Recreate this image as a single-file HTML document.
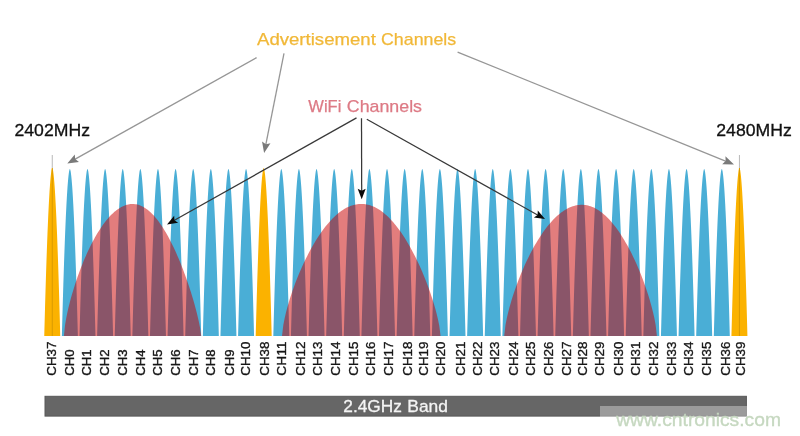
<!DOCTYPE html>
<html><head><meta charset="utf-8"><style>
html,body{margin:0;padding:0;background:#fff;width:800px;height:436px;overflow:hidden}
svg{display:block;font-family:"Liberation Sans", sans-serif;will-change:transform}
</style></head><body>
<svg width="800" height="436" viewBox="0 0 800 436">
<rect width="800" height="436" fill="#fff"/>
<path d="M61.87,336.00 L62.24,322.37 L62.60,309.33 L62.96,296.86 L63.32,284.97 L63.68,273.66 L64.04,262.94 L64.40,252.79 L64.75,243.22 L65.10,234.23 L65.45,225.83 L65.79,218.00 L66.14,210.75 L66.48,204.08 L66.82,197.99 L67.15,192.48 L67.48,187.56 L67.81,183.21 L68.13,179.44 L68.45,176.25 L68.76,173.64 L69.06,171.61 L69.35,170.16 L69.63,169.29 L69.87,169.00 L70.11,169.29 L70.39,170.16 L70.68,171.61 L70.98,173.64 L71.29,176.25 L71.61,179.44 L71.93,183.21 L72.26,187.56 L72.59,192.48 L72.92,197.99 L73.26,204.08 L73.60,210.75 L73.95,218.00 L74.29,225.83 L74.64,234.23 L74.99,243.22 L75.34,252.79 L75.70,262.94 L76.06,273.66 L76.42,284.97 L76.78,296.86 L77.14,309.33 L77.50,322.37 L77.87,336.00Z M79.49,336.00 L79.86,322.37 L80.22,309.33 L80.58,296.86 L80.94,284.97 L81.30,273.66 L81.66,262.94 L82.02,252.79 L82.37,243.22 L82.72,234.23 L83.07,225.83 L83.41,218.00 L83.76,210.75 L84.10,204.08 L84.44,197.99 L84.77,192.48 L85.10,187.56 L85.43,183.21 L85.75,179.44 L86.07,176.25 L86.38,173.64 L86.68,171.61 L86.97,170.16 L87.25,169.29 L87.49,169.00 L87.73,169.29 L88.01,170.16 L88.30,171.61 L88.60,173.64 L88.91,176.25 L89.23,179.44 L89.55,183.21 L89.88,187.56 L90.21,192.48 L90.54,197.99 L90.88,204.08 L91.22,210.75 L91.57,218.00 L91.91,225.83 L92.26,234.23 L92.61,243.22 L92.96,252.79 L93.32,262.94 L93.68,273.66 L94.04,284.97 L94.40,296.86 L94.76,309.33 L95.12,322.37 L95.49,336.00Z M97.11,336.00 L97.48,322.37 L97.84,309.33 L98.20,296.86 L98.56,284.97 L98.92,273.66 L99.28,262.94 L99.64,252.79 L99.99,243.22 L100.34,234.23 L100.69,225.83 L101.03,218.00 L101.38,210.75 L101.72,204.08 L102.06,197.99 L102.39,192.48 L102.72,187.56 L103.05,183.21 L103.37,179.44 L103.69,176.25 L104.00,173.64 L104.30,171.61 L104.59,170.16 L104.87,169.29 L105.11,169.00 L105.35,169.29 L105.63,170.16 L105.92,171.61 L106.22,173.64 L106.53,176.25 L106.85,179.44 L107.17,183.21 L107.50,187.56 L107.83,192.48 L108.16,197.99 L108.50,204.08 L108.84,210.75 L109.19,218.00 L109.53,225.83 L109.88,234.23 L110.23,243.22 L110.58,252.79 L110.94,262.94 L111.30,273.66 L111.66,284.97 L112.02,296.86 L112.38,309.33 L112.74,322.37 L113.11,336.00Z M114.73,336.00 L115.10,322.37 L115.46,309.33 L115.82,296.86 L116.18,284.97 L116.54,273.66 L116.90,262.94 L117.26,252.79 L117.61,243.22 L117.96,234.23 L118.31,225.83 L118.65,218.00 L119.00,210.75 L119.34,204.08 L119.68,197.99 L120.01,192.48 L120.34,187.56 L120.67,183.21 L120.99,179.44 L121.31,176.25 L121.62,173.64 L121.92,171.61 L122.21,170.16 L122.49,169.29 L122.73,169.00 L122.97,169.29 L123.25,170.16 L123.54,171.61 L123.84,173.64 L124.15,176.25 L124.47,179.44 L124.79,183.21 L125.12,187.56 L125.45,192.48 L125.78,197.99 L126.12,204.08 L126.46,210.75 L126.81,218.00 L127.15,225.83 L127.50,234.23 L127.85,243.22 L128.20,252.79 L128.56,262.94 L128.92,273.66 L129.28,284.97 L129.64,296.86 L130.00,309.33 L130.36,322.37 L130.73,336.00Z M132.35,336.00 L132.72,322.37 L133.08,309.33 L133.44,296.86 L133.80,284.97 L134.16,273.66 L134.52,262.94 L134.88,252.79 L135.23,243.22 L135.58,234.23 L135.93,225.83 L136.27,218.00 L136.62,210.75 L136.96,204.08 L137.30,197.99 L137.63,192.48 L137.96,187.56 L138.29,183.21 L138.61,179.44 L138.93,176.25 L139.24,173.64 L139.54,171.61 L139.83,170.16 L140.11,169.29 L140.35,169.00 L140.59,169.29 L140.87,170.16 L141.16,171.61 L141.46,173.64 L141.77,176.25 L142.09,179.44 L142.41,183.21 L142.74,187.56 L143.07,192.48 L143.40,197.99 L143.74,204.08 L144.08,210.75 L144.43,218.00 L144.77,225.83 L145.12,234.23 L145.47,243.22 L145.82,252.79 L146.18,262.94 L146.54,273.66 L146.90,284.97 L147.26,296.86 L147.62,309.33 L147.98,322.37 L148.35,336.00Z M149.97,336.00 L150.34,322.37 L150.70,309.33 L151.06,296.86 L151.42,284.97 L151.78,273.66 L152.14,262.94 L152.50,252.79 L152.85,243.22 L153.20,234.23 L153.55,225.83 L153.89,218.00 L154.24,210.75 L154.58,204.08 L154.92,197.99 L155.25,192.48 L155.58,187.56 L155.91,183.21 L156.23,179.44 L156.55,176.25 L156.86,173.64 L157.16,171.61 L157.45,170.16 L157.73,169.29 L157.97,169.00 L158.21,169.29 L158.49,170.16 L158.78,171.61 L159.08,173.64 L159.39,176.25 L159.71,179.44 L160.03,183.21 L160.36,187.56 L160.69,192.48 L161.02,197.99 L161.36,204.08 L161.70,210.75 L162.05,218.00 L162.39,225.83 L162.74,234.23 L163.09,243.22 L163.44,252.79 L163.80,262.94 L164.16,273.66 L164.52,284.97 L164.88,296.86 L165.24,309.33 L165.60,322.37 L165.97,336.00Z M167.59,336.00 L167.96,322.37 L168.32,309.33 L168.68,296.86 L169.04,284.97 L169.40,273.66 L169.76,262.94 L170.12,252.79 L170.47,243.22 L170.82,234.23 L171.17,225.83 L171.51,218.00 L171.86,210.75 L172.20,204.08 L172.54,197.99 L172.87,192.48 L173.20,187.56 L173.53,183.21 L173.85,179.44 L174.17,176.25 L174.48,173.64 L174.78,171.61 L175.07,170.16 L175.35,169.29 L175.59,169.00 L175.83,169.29 L176.11,170.16 L176.40,171.61 L176.70,173.64 L177.01,176.25 L177.33,179.44 L177.65,183.21 L177.98,187.56 L178.31,192.48 L178.64,197.99 L178.98,204.08 L179.32,210.75 L179.67,218.00 L180.01,225.83 L180.36,234.23 L180.71,243.22 L181.06,252.79 L181.42,262.94 L181.78,273.66 L182.14,284.97 L182.50,296.86 L182.86,309.33 L183.22,322.37 L183.59,336.00Z M185.21,336.00 L185.58,322.37 L185.94,309.33 L186.30,296.86 L186.66,284.97 L187.02,273.66 L187.38,262.94 L187.74,252.79 L188.09,243.22 L188.44,234.23 L188.79,225.83 L189.13,218.00 L189.48,210.75 L189.82,204.08 L190.16,197.99 L190.49,192.48 L190.82,187.56 L191.15,183.21 L191.47,179.44 L191.79,176.25 L192.10,173.64 L192.40,171.61 L192.69,170.16 L192.97,169.29 L193.21,169.00 L193.45,169.29 L193.73,170.16 L194.02,171.61 L194.32,173.64 L194.63,176.25 L194.95,179.44 L195.27,183.21 L195.60,187.56 L195.93,192.48 L196.26,197.99 L196.60,204.08 L196.94,210.75 L197.29,218.00 L197.63,225.83 L197.98,234.23 L198.33,243.22 L198.68,252.79 L199.04,262.94 L199.40,273.66 L199.76,284.97 L200.12,296.86 L200.48,309.33 L200.84,322.37 L201.21,336.00Z M202.83,336.00 L203.20,322.37 L203.56,309.33 L203.92,296.86 L204.28,284.97 L204.64,273.66 L205.00,262.94 L205.36,252.79 L205.71,243.22 L206.06,234.23 L206.41,225.83 L206.75,218.00 L207.10,210.75 L207.44,204.08 L207.78,197.99 L208.11,192.48 L208.44,187.56 L208.77,183.21 L209.09,179.44 L209.41,176.25 L209.72,173.64 L210.02,171.61 L210.31,170.16 L210.59,169.29 L210.83,169.00 L211.07,169.29 L211.35,170.16 L211.64,171.61 L211.94,173.64 L212.25,176.25 L212.57,179.44 L212.89,183.21 L213.22,187.56 L213.55,192.48 L213.88,197.99 L214.22,204.08 L214.56,210.75 L214.91,218.00 L215.25,225.83 L215.60,234.23 L215.95,243.22 L216.30,252.79 L216.66,262.94 L217.02,273.66 L217.38,284.97 L217.74,296.86 L218.10,309.33 L218.46,322.37 L218.83,336.00Z M220.45,336.00 L220.82,322.37 L221.18,309.33 L221.54,296.86 L221.90,284.97 L222.26,273.66 L222.62,262.94 L222.98,252.79 L223.33,243.22 L223.68,234.23 L224.03,225.83 L224.37,218.00 L224.72,210.75 L225.06,204.08 L225.40,197.99 L225.73,192.48 L226.06,187.56 L226.39,183.21 L226.71,179.44 L227.03,176.25 L227.34,173.64 L227.64,171.61 L227.93,170.16 L228.21,169.29 L228.45,169.00 L228.69,169.29 L228.97,170.16 L229.26,171.61 L229.56,173.64 L229.87,176.25 L230.19,179.44 L230.51,183.21 L230.84,187.56 L231.17,192.48 L231.50,197.99 L231.84,204.08 L232.18,210.75 L232.53,218.00 L232.87,225.83 L233.22,234.23 L233.57,243.22 L233.92,252.79 L234.28,262.94 L234.64,273.66 L235.00,284.97 L235.36,296.86 L235.72,309.33 L236.08,322.37 L236.45,336.00Z M238.07,336.00 L238.44,322.37 L238.80,309.33 L239.16,296.86 L239.52,284.97 L239.88,273.66 L240.24,262.94 L240.60,252.79 L240.95,243.22 L241.30,234.23 L241.65,225.83 L241.99,218.00 L242.34,210.75 L242.68,204.08 L243.02,197.99 L243.35,192.48 L243.68,187.56 L244.01,183.21 L244.33,179.44 L244.65,176.25 L244.96,173.64 L245.26,171.61 L245.55,170.16 L245.83,169.29 L246.07,169.00 L246.31,169.29 L246.59,170.16 L246.88,171.61 L247.18,173.64 L247.49,176.25 L247.81,179.44 L248.13,183.21 L248.46,187.56 L248.79,192.48 L249.12,197.99 L249.46,204.08 L249.80,210.75 L250.15,218.00 L250.49,225.83 L250.84,234.23 L251.19,243.22 L251.54,252.79 L251.90,262.94 L252.26,273.66 L252.62,284.97 L252.98,296.86 L253.34,309.33 L253.70,322.37 L254.07,336.00Z M273.31,336.00 L273.68,322.37 L274.04,309.33 L274.40,296.86 L274.76,284.97 L275.12,273.66 L275.48,262.94 L275.84,252.79 L276.19,243.22 L276.54,234.23 L276.89,225.83 L277.23,218.00 L277.58,210.75 L277.92,204.08 L278.26,197.99 L278.59,192.48 L278.92,187.56 L279.25,183.21 L279.57,179.44 L279.89,176.25 L280.20,173.64 L280.50,171.61 L280.79,170.16 L281.07,169.29 L281.31,169.00 L281.55,169.29 L281.83,170.16 L282.12,171.61 L282.42,173.64 L282.73,176.25 L283.05,179.44 L283.37,183.21 L283.70,187.56 L284.03,192.48 L284.36,197.99 L284.70,204.08 L285.04,210.75 L285.39,218.00 L285.73,225.83 L286.08,234.23 L286.43,243.22 L286.78,252.79 L287.14,262.94 L287.50,273.66 L287.86,284.97 L288.22,296.86 L288.58,309.33 L288.94,322.37 L289.31,336.00Z M290.93,336.00 L291.30,322.37 L291.66,309.33 L292.02,296.86 L292.38,284.97 L292.74,273.66 L293.10,262.94 L293.46,252.79 L293.81,243.22 L294.16,234.23 L294.51,225.83 L294.85,218.00 L295.20,210.75 L295.54,204.08 L295.88,197.99 L296.21,192.48 L296.54,187.56 L296.87,183.21 L297.19,179.44 L297.51,176.25 L297.82,173.64 L298.12,171.61 L298.41,170.16 L298.69,169.29 L298.93,169.00 L299.17,169.29 L299.45,170.16 L299.74,171.61 L300.04,173.64 L300.35,176.25 L300.67,179.44 L300.99,183.21 L301.32,187.56 L301.65,192.48 L301.98,197.99 L302.32,204.08 L302.66,210.75 L303.01,218.00 L303.35,225.83 L303.70,234.23 L304.05,243.22 L304.40,252.79 L304.76,262.94 L305.12,273.66 L305.48,284.97 L305.84,296.86 L306.20,309.33 L306.56,322.37 L306.93,336.00Z M308.55,336.00 L308.92,322.37 L309.28,309.33 L309.64,296.86 L310.00,284.97 L310.36,273.66 L310.72,262.94 L311.08,252.79 L311.43,243.22 L311.78,234.23 L312.13,225.83 L312.47,218.00 L312.82,210.75 L313.16,204.08 L313.50,197.99 L313.83,192.48 L314.16,187.56 L314.49,183.21 L314.81,179.44 L315.13,176.25 L315.44,173.64 L315.74,171.61 L316.03,170.16 L316.31,169.29 L316.55,169.00 L316.79,169.29 L317.07,170.16 L317.36,171.61 L317.66,173.64 L317.97,176.25 L318.29,179.44 L318.61,183.21 L318.94,187.56 L319.27,192.48 L319.60,197.99 L319.94,204.08 L320.28,210.75 L320.63,218.00 L320.97,225.83 L321.32,234.23 L321.67,243.22 L322.02,252.79 L322.38,262.94 L322.74,273.66 L323.10,284.97 L323.46,296.86 L323.82,309.33 L324.18,322.37 L324.55,336.00Z M326.17,336.00 L326.54,322.37 L326.90,309.33 L327.26,296.86 L327.62,284.97 L327.98,273.66 L328.34,262.94 L328.70,252.79 L329.05,243.22 L329.40,234.23 L329.75,225.83 L330.09,218.00 L330.44,210.75 L330.78,204.08 L331.12,197.99 L331.45,192.48 L331.78,187.56 L332.11,183.21 L332.43,179.44 L332.75,176.25 L333.06,173.64 L333.36,171.61 L333.65,170.16 L333.93,169.29 L334.17,169.00 L334.41,169.29 L334.69,170.16 L334.98,171.61 L335.28,173.64 L335.59,176.25 L335.91,179.44 L336.23,183.21 L336.56,187.56 L336.89,192.48 L337.22,197.99 L337.56,204.08 L337.90,210.75 L338.25,218.00 L338.59,225.83 L338.94,234.23 L339.29,243.22 L339.64,252.79 L340.00,262.94 L340.36,273.66 L340.72,284.97 L341.08,296.86 L341.44,309.33 L341.80,322.37 L342.17,336.00Z M343.79,336.00 L344.16,322.37 L344.52,309.33 L344.88,296.86 L345.24,284.97 L345.60,273.66 L345.96,262.94 L346.32,252.79 L346.67,243.22 L347.02,234.23 L347.37,225.83 L347.71,218.00 L348.06,210.75 L348.40,204.08 L348.74,197.99 L349.07,192.48 L349.40,187.56 L349.73,183.21 L350.05,179.44 L350.37,176.25 L350.68,173.64 L350.98,171.61 L351.27,170.16 L351.55,169.29 L351.79,169.00 L352.03,169.29 L352.31,170.16 L352.60,171.61 L352.90,173.64 L353.21,176.25 L353.53,179.44 L353.85,183.21 L354.18,187.56 L354.51,192.48 L354.84,197.99 L355.18,204.08 L355.52,210.75 L355.87,218.00 L356.21,225.83 L356.56,234.23 L356.91,243.22 L357.26,252.79 L357.62,262.94 L357.98,273.66 L358.34,284.97 L358.70,296.86 L359.06,309.33 L359.42,322.37 L359.79,336.00Z M361.41,336.00 L361.78,322.37 L362.14,309.33 L362.50,296.86 L362.86,284.97 L363.22,273.66 L363.58,262.94 L363.94,252.79 L364.29,243.22 L364.64,234.23 L364.99,225.83 L365.33,218.00 L365.68,210.75 L366.02,204.08 L366.36,197.99 L366.69,192.48 L367.02,187.56 L367.35,183.21 L367.67,179.44 L367.99,176.25 L368.30,173.64 L368.60,171.61 L368.89,170.16 L369.17,169.29 L369.41,169.00 L369.65,169.29 L369.93,170.16 L370.22,171.61 L370.52,173.64 L370.83,176.25 L371.15,179.44 L371.47,183.21 L371.80,187.56 L372.13,192.48 L372.46,197.99 L372.80,204.08 L373.14,210.75 L373.49,218.00 L373.83,225.83 L374.18,234.23 L374.53,243.22 L374.88,252.79 L375.24,262.94 L375.60,273.66 L375.96,284.97 L376.32,296.86 L376.68,309.33 L377.04,322.37 L377.41,336.00Z M379.03,336.00 L379.40,322.37 L379.76,309.33 L380.12,296.86 L380.48,284.97 L380.84,273.66 L381.20,262.94 L381.56,252.79 L381.91,243.22 L382.26,234.23 L382.61,225.83 L382.95,218.00 L383.30,210.75 L383.64,204.08 L383.98,197.99 L384.31,192.48 L384.64,187.56 L384.97,183.21 L385.29,179.44 L385.61,176.25 L385.92,173.64 L386.22,171.61 L386.51,170.16 L386.79,169.29 L387.03,169.00 L387.27,169.29 L387.55,170.16 L387.84,171.61 L388.14,173.64 L388.45,176.25 L388.77,179.44 L389.09,183.21 L389.42,187.56 L389.75,192.48 L390.08,197.99 L390.42,204.08 L390.76,210.75 L391.11,218.00 L391.45,225.83 L391.80,234.23 L392.15,243.22 L392.50,252.79 L392.86,262.94 L393.22,273.66 L393.58,284.97 L393.94,296.86 L394.30,309.33 L394.66,322.37 L395.03,336.00Z M396.65,336.00 L397.02,322.37 L397.38,309.33 L397.74,296.86 L398.10,284.97 L398.46,273.66 L398.82,262.94 L399.18,252.79 L399.53,243.22 L399.88,234.23 L400.23,225.83 L400.57,218.00 L400.92,210.75 L401.26,204.08 L401.60,197.99 L401.93,192.48 L402.26,187.56 L402.59,183.21 L402.91,179.44 L403.23,176.25 L403.54,173.64 L403.84,171.61 L404.13,170.16 L404.41,169.29 L404.65,169.00 L404.89,169.29 L405.17,170.16 L405.46,171.61 L405.76,173.64 L406.07,176.25 L406.39,179.44 L406.71,183.21 L407.04,187.56 L407.37,192.48 L407.70,197.99 L408.04,204.08 L408.38,210.75 L408.73,218.00 L409.07,225.83 L409.42,234.23 L409.77,243.22 L410.12,252.79 L410.48,262.94 L410.84,273.66 L411.20,284.97 L411.56,296.86 L411.92,309.33 L412.28,322.37 L412.65,336.00Z M414.27,336.00 L414.64,322.37 L415.00,309.33 L415.36,296.86 L415.72,284.97 L416.08,273.66 L416.44,262.94 L416.80,252.79 L417.15,243.22 L417.50,234.23 L417.85,225.83 L418.19,218.00 L418.54,210.75 L418.88,204.08 L419.22,197.99 L419.55,192.48 L419.88,187.56 L420.21,183.21 L420.53,179.44 L420.85,176.25 L421.16,173.64 L421.46,171.61 L421.75,170.16 L422.03,169.29 L422.27,169.00 L422.51,169.29 L422.79,170.16 L423.08,171.61 L423.38,173.64 L423.69,176.25 L424.01,179.44 L424.33,183.21 L424.66,187.56 L424.99,192.48 L425.32,197.99 L425.66,204.08 L426.00,210.75 L426.35,218.00 L426.69,225.83 L427.04,234.23 L427.39,243.22 L427.74,252.79 L428.10,262.94 L428.46,273.66 L428.82,284.97 L429.18,296.86 L429.54,309.33 L429.90,322.37 L430.27,336.00Z M431.89,336.00 L432.26,322.37 L432.62,309.33 L432.98,296.86 L433.34,284.97 L433.70,273.66 L434.06,262.94 L434.42,252.79 L434.77,243.22 L435.12,234.23 L435.47,225.83 L435.81,218.00 L436.16,210.75 L436.50,204.08 L436.84,197.99 L437.17,192.48 L437.50,187.56 L437.83,183.21 L438.15,179.44 L438.47,176.25 L438.78,173.64 L439.08,171.61 L439.37,170.16 L439.65,169.29 L439.89,169.00 L440.13,169.29 L440.41,170.16 L440.70,171.61 L441.00,173.64 L441.31,176.25 L441.63,179.44 L441.95,183.21 L442.28,187.56 L442.61,192.48 L442.94,197.99 L443.28,204.08 L443.62,210.75 L443.97,218.00 L444.31,225.83 L444.66,234.23 L445.01,243.22 L445.36,252.79 L445.72,262.94 L446.08,273.66 L446.44,284.97 L446.80,296.86 L447.16,309.33 L447.52,322.37 L447.89,336.00Z M449.51,336.00 L449.88,322.37 L450.24,309.33 L450.60,296.86 L450.96,284.97 L451.32,273.66 L451.68,262.94 L452.04,252.79 L452.39,243.22 L452.74,234.23 L453.09,225.83 L453.43,218.00 L453.78,210.75 L454.12,204.08 L454.46,197.99 L454.79,192.48 L455.12,187.56 L455.45,183.21 L455.77,179.44 L456.09,176.25 L456.40,173.64 L456.70,171.61 L456.99,170.16 L457.27,169.29 L457.51,169.00 L457.75,169.29 L458.03,170.16 L458.32,171.61 L458.62,173.64 L458.93,176.25 L459.25,179.44 L459.57,183.21 L459.90,187.56 L460.23,192.48 L460.56,197.99 L460.90,204.08 L461.24,210.75 L461.59,218.00 L461.93,225.83 L462.28,234.23 L462.63,243.22 L462.98,252.79 L463.34,262.94 L463.70,273.66 L464.06,284.97 L464.42,296.86 L464.78,309.33 L465.14,322.37 L465.51,336.00Z M467.13,336.00 L467.50,322.37 L467.86,309.33 L468.22,296.86 L468.58,284.97 L468.94,273.66 L469.30,262.94 L469.66,252.79 L470.01,243.22 L470.36,234.23 L470.71,225.83 L471.05,218.00 L471.40,210.75 L471.74,204.08 L472.08,197.99 L472.41,192.48 L472.74,187.56 L473.07,183.21 L473.39,179.44 L473.71,176.25 L474.02,173.64 L474.32,171.61 L474.61,170.16 L474.89,169.29 L475.13,169.00 L475.37,169.29 L475.65,170.16 L475.94,171.61 L476.24,173.64 L476.55,176.25 L476.87,179.44 L477.19,183.21 L477.52,187.56 L477.85,192.48 L478.18,197.99 L478.52,204.08 L478.86,210.75 L479.21,218.00 L479.55,225.83 L479.90,234.23 L480.25,243.22 L480.60,252.79 L480.96,262.94 L481.32,273.66 L481.68,284.97 L482.04,296.86 L482.40,309.33 L482.76,322.37 L483.13,336.00Z M484.75,336.00 L485.12,322.37 L485.48,309.33 L485.84,296.86 L486.20,284.97 L486.56,273.66 L486.92,262.94 L487.28,252.79 L487.63,243.22 L487.98,234.23 L488.33,225.83 L488.67,218.00 L489.02,210.75 L489.36,204.08 L489.70,197.99 L490.03,192.48 L490.36,187.56 L490.69,183.21 L491.01,179.44 L491.33,176.25 L491.64,173.64 L491.94,171.61 L492.23,170.16 L492.51,169.29 L492.75,169.00 L492.99,169.29 L493.27,170.16 L493.56,171.61 L493.86,173.64 L494.17,176.25 L494.49,179.44 L494.81,183.21 L495.14,187.56 L495.47,192.48 L495.80,197.99 L496.14,204.08 L496.48,210.75 L496.83,218.00 L497.17,225.83 L497.52,234.23 L497.87,243.22 L498.22,252.79 L498.58,262.94 L498.94,273.66 L499.30,284.97 L499.66,296.86 L500.02,309.33 L500.38,322.37 L500.75,336.00Z M502.37,336.00 L502.74,322.37 L503.10,309.33 L503.46,296.86 L503.82,284.97 L504.18,273.66 L504.54,262.94 L504.90,252.79 L505.25,243.22 L505.60,234.23 L505.95,225.83 L506.29,218.00 L506.64,210.75 L506.98,204.08 L507.32,197.99 L507.65,192.48 L507.98,187.56 L508.31,183.21 L508.63,179.44 L508.95,176.25 L509.26,173.64 L509.56,171.61 L509.85,170.16 L510.13,169.29 L510.37,169.00 L510.61,169.29 L510.89,170.16 L511.18,171.61 L511.48,173.64 L511.79,176.25 L512.11,179.44 L512.43,183.21 L512.76,187.56 L513.09,192.48 L513.42,197.99 L513.76,204.08 L514.10,210.75 L514.45,218.00 L514.79,225.83 L515.14,234.23 L515.49,243.22 L515.84,252.79 L516.20,262.94 L516.56,273.66 L516.92,284.97 L517.28,296.86 L517.64,309.33 L518.00,322.37 L518.37,336.00Z M519.99,336.00 L520.36,322.37 L520.72,309.33 L521.08,296.86 L521.44,284.97 L521.80,273.66 L522.16,262.94 L522.52,252.79 L522.87,243.22 L523.22,234.23 L523.57,225.83 L523.91,218.00 L524.26,210.75 L524.60,204.08 L524.94,197.99 L525.27,192.48 L525.60,187.56 L525.93,183.21 L526.25,179.44 L526.57,176.25 L526.88,173.64 L527.18,171.61 L527.47,170.16 L527.75,169.29 L527.99,169.00 L528.23,169.29 L528.51,170.16 L528.80,171.61 L529.10,173.64 L529.41,176.25 L529.73,179.44 L530.05,183.21 L530.38,187.56 L530.71,192.48 L531.04,197.99 L531.38,204.08 L531.72,210.75 L532.07,218.00 L532.41,225.83 L532.76,234.23 L533.11,243.22 L533.46,252.79 L533.82,262.94 L534.18,273.66 L534.54,284.97 L534.90,296.86 L535.26,309.33 L535.62,322.37 L535.99,336.00Z M537.61,336.00 L537.98,322.37 L538.34,309.33 L538.70,296.86 L539.06,284.97 L539.42,273.66 L539.78,262.94 L540.14,252.79 L540.49,243.22 L540.84,234.23 L541.19,225.83 L541.53,218.00 L541.88,210.75 L542.22,204.08 L542.56,197.99 L542.89,192.48 L543.22,187.56 L543.55,183.21 L543.87,179.44 L544.19,176.25 L544.50,173.64 L544.80,171.61 L545.09,170.16 L545.37,169.29 L545.61,169.00 L545.85,169.29 L546.13,170.16 L546.42,171.61 L546.72,173.64 L547.03,176.25 L547.35,179.44 L547.67,183.21 L548.00,187.56 L548.33,192.48 L548.66,197.99 L549.00,204.08 L549.34,210.75 L549.69,218.00 L550.03,225.83 L550.38,234.23 L550.73,243.22 L551.08,252.79 L551.44,262.94 L551.80,273.66 L552.16,284.97 L552.52,296.86 L552.88,309.33 L553.24,322.37 L553.61,336.00Z M555.23,336.00 L555.60,322.37 L555.96,309.33 L556.32,296.86 L556.68,284.97 L557.04,273.66 L557.40,262.94 L557.76,252.79 L558.11,243.22 L558.46,234.23 L558.81,225.83 L559.15,218.00 L559.50,210.75 L559.84,204.08 L560.18,197.99 L560.51,192.48 L560.84,187.56 L561.17,183.21 L561.49,179.44 L561.81,176.25 L562.12,173.64 L562.42,171.61 L562.71,170.16 L562.99,169.29 L563.23,169.00 L563.47,169.29 L563.75,170.16 L564.04,171.61 L564.34,173.64 L564.65,176.25 L564.97,179.44 L565.29,183.21 L565.62,187.56 L565.95,192.48 L566.28,197.99 L566.62,204.08 L566.96,210.75 L567.31,218.00 L567.65,225.83 L568.00,234.23 L568.35,243.22 L568.70,252.79 L569.06,262.94 L569.42,273.66 L569.78,284.97 L570.14,296.86 L570.50,309.33 L570.86,322.37 L571.23,336.00Z M572.85,336.00 L573.22,322.37 L573.58,309.33 L573.94,296.86 L574.30,284.97 L574.66,273.66 L575.02,262.94 L575.38,252.79 L575.73,243.22 L576.08,234.23 L576.43,225.83 L576.77,218.00 L577.12,210.75 L577.46,204.08 L577.80,197.99 L578.13,192.48 L578.46,187.56 L578.79,183.21 L579.11,179.44 L579.43,176.25 L579.74,173.64 L580.04,171.61 L580.33,170.16 L580.61,169.29 L580.85,169.00 L581.09,169.29 L581.37,170.16 L581.66,171.61 L581.96,173.64 L582.27,176.25 L582.59,179.44 L582.91,183.21 L583.24,187.56 L583.57,192.48 L583.90,197.99 L584.24,204.08 L584.58,210.75 L584.93,218.00 L585.27,225.83 L585.62,234.23 L585.97,243.22 L586.32,252.79 L586.68,262.94 L587.04,273.66 L587.40,284.97 L587.76,296.86 L588.12,309.33 L588.48,322.37 L588.85,336.00Z M590.47,336.00 L590.84,322.37 L591.20,309.33 L591.56,296.86 L591.92,284.97 L592.28,273.66 L592.64,262.94 L593.00,252.79 L593.35,243.22 L593.70,234.23 L594.05,225.83 L594.39,218.00 L594.74,210.75 L595.08,204.08 L595.42,197.99 L595.75,192.48 L596.08,187.56 L596.41,183.21 L596.73,179.44 L597.05,176.25 L597.36,173.64 L597.66,171.61 L597.95,170.16 L598.23,169.29 L598.47,169.00 L598.71,169.29 L598.99,170.16 L599.28,171.61 L599.58,173.64 L599.89,176.25 L600.21,179.44 L600.53,183.21 L600.86,187.56 L601.19,192.48 L601.52,197.99 L601.86,204.08 L602.20,210.75 L602.55,218.00 L602.89,225.83 L603.24,234.23 L603.59,243.22 L603.94,252.79 L604.30,262.94 L604.66,273.66 L605.02,284.97 L605.38,296.86 L605.74,309.33 L606.10,322.37 L606.47,336.00Z M608.09,336.00 L608.46,322.37 L608.82,309.33 L609.18,296.86 L609.54,284.97 L609.90,273.66 L610.26,262.94 L610.62,252.79 L610.97,243.22 L611.32,234.23 L611.67,225.83 L612.01,218.00 L612.36,210.75 L612.70,204.08 L613.04,197.99 L613.37,192.48 L613.70,187.56 L614.03,183.21 L614.35,179.44 L614.67,176.25 L614.98,173.64 L615.28,171.61 L615.57,170.16 L615.85,169.29 L616.09,169.00 L616.33,169.29 L616.61,170.16 L616.90,171.61 L617.20,173.64 L617.51,176.25 L617.83,179.44 L618.15,183.21 L618.48,187.56 L618.81,192.48 L619.14,197.99 L619.48,204.08 L619.82,210.75 L620.17,218.00 L620.51,225.83 L620.86,234.23 L621.21,243.22 L621.56,252.79 L621.92,262.94 L622.28,273.66 L622.64,284.97 L623.00,296.86 L623.36,309.33 L623.72,322.37 L624.09,336.00Z M625.71,336.00 L626.08,322.37 L626.44,309.33 L626.80,296.86 L627.16,284.97 L627.52,273.66 L627.88,262.94 L628.24,252.79 L628.59,243.22 L628.94,234.23 L629.29,225.83 L629.63,218.00 L629.98,210.75 L630.32,204.08 L630.66,197.99 L630.99,192.48 L631.32,187.56 L631.65,183.21 L631.97,179.44 L632.29,176.25 L632.60,173.64 L632.90,171.61 L633.19,170.16 L633.47,169.29 L633.71,169.00 L633.95,169.29 L634.23,170.16 L634.52,171.61 L634.82,173.64 L635.13,176.25 L635.45,179.44 L635.77,183.21 L636.10,187.56 L636.43,192.48 L636.76,197.99 L637.10,204.08 L637.44,210.75 L637.79,218.00 L638.13,225.83 L638.48,234.23 L638.83,243.22 L639.18,252.79 L639.54,262.94 L639.90,273.66 L640.26,284.97 L640.62,296.86 L640.98,309.33 L641.34,322.37 L641.71,336.00Z M643.33,336.00 L643.70,322.37 L644.06,309.33 L644.42,296.86 L644.78,284.97 L645.14,273.66 L645.50,262.94 L645.86,252.79 L646.21,243.22 L646.56,234.23 L646.91,225.83 L647.25,218.00 L647.60,210.75 L647.94,204.08 L648.28,197.99 L648.61,192.48 L648.94,187.56 L649.27,183.21 L649.59,179.44 L649.91,176.25 L650.22,173.64 L650.52,171.61 L650.81,170.16 L651.09,169.29 L651.33,169.00 L651.57,169.29 L651.85,170.16 L652.14,171.61 L652.44,173.64 L652.75,176.25 L653.07,179.44 L653.39,183.21 L653.72,187.56 L654.05,192.48 L654.38,197.99 L654.72,204.08 L655.06,210.75 L655.41,218.00 L655.75,225.83 L656.10,234.23 L656.45,243.22 L656.80,252.79 L657.16,262.94 L657.52,273.66 L657.88,284.97 L658.24,296.86 L658.60,309.33 L658.96,322.37 L659.33,336.00Z M660.95,336.00 L661.32,322.37 L661.68,309.33 L662.04,296.86 L662.40,284.97 L662.76,273.66 L663.12,262.94 L663.48,252.79 L663.83,243.22 L664.18,234.23 L664.53,225.83 L664.87,218.00 L665.22,210.75 L665.56,204.08 L665.90,197.99 L666.23,192.48 L666.56,187.56 L666.89,183.21 L667.21,179.44 L667.53,176.25 L667.84,173.64 L668.14,171.61 L668.43,170.16 L668.71,169.29 L668.95,169.00 L669.19,169.29 L669.47,170.16 L669.76,171.61 L670.06,173.64 L670.37,176.25 L670.69,179.44 L671.01,183.21 L671.34,187.56 L671.67,192.48 L672.00,197.99 L672.34,204.08 L672.68,210.75 L673.03,218.00 L673.37,225.83 L673.72,234.23 L674.07,243.22 L674.42,252.79 L674.78,262.94 L675.14,273.66 L675.50,284.97 L675.86,296.86 L676.22,309.33 L676.58,322.37 L676.95,336.00Z M678.57,336.00 L678.94,322.37 L679.30,309.33 L679.66,296.86 L680.02,284.97 L680.38,273.66 L680.74,262.94 L681.10,252.79 L681.45,243.22 L681.80,234.23 L682.15,225.83 L682.49,218.00 L682.84,210.75 L683.18,204.08 L683.52,197.99 L683.85,192.48 L684.18,187.56 L684.51,183.21 L684.83,179.44 L685.15,176.25 L685.46,173.64 L685.76,171.61 L686.05,170.16 L686.33,169.29 L686.57,169.00 L686.81,169.29 L687.09,170.16 L687.38,171.61 L687.68,173.64 L687.99,176.25 L688.31,179.44 L688.63,183.21 L688.96,187.56 L689.29,192.48 L689.62,197.99 L689.96,204.08 L690.30,210.75 L690.65,218.00 L690.99,225.83 L691.34,234.23 L691.69,243.22 L692.04,252.79 L692.40,262.94 L692.76,273.66 L693.12,284.97 L693.48,296.86 L693.84,309.33 L694.20,322.37 L694.57,336.00Z M696.19,336.00 L696.56,322.37 L696.92,309.33 L697.28,296.86 L697.64,284.97 L698.00,273.66 L698.36,262.94 L698.72,252.79 L699.07,243.22 L699.42,234.23 L699.77,225.83 L700.11,218.00 L700.46,210.75 L700.80,204.08 L701.14,197.99 L701.47,192.48 L701.80,187.56 L702.13,183.21 L702.45,179.44 L702.77,176.25 L703.08,173.64 L703.38,171.61 L703.67,170.16 L703.95,169.29 L704.19,169.00 L704.43,169.29 L704.71,170.16 L705.00,171.61 L705.30,173.64 L705.61,176.25 L705.93,179.44 L706.25,183.21 L706.58,187.56 L706.91,192.48 L707.24,197.99 L707.58,204.08 L707.92,210.75 L708.27,218.00 L708.61,225.83 L708.96,234.23 L709.31,243.22 L709.66,252.79 L710.02,262.94 L710.38,273.66 L710.74,284.97 L711.10,296.86 L711.46,309.33 L711.82,322.37 L712.19,336.00Z M713.81,336.00 L714.18,322.37 L714.54,309.33 L714.90,296.86 L715.26,284.97 L715.62,273.66 L715.98,262.94 L716.34,252.79 L716.69,243.22 L717.04,234.23 L717.39,225.83 L717.73,218.00 L718.08,210.75 L718.42,204.08 L718.76,197.99 L719.09,192.48 L719.42,187.56 L719.75,183.21 L720.07,179.44 L720.39,176.25 L720.70,173.64 L721.00,171.61 L721.29,170.16 L721.57,169.29 L721.81,169.00 L722.05,169.29 L722.33,170.16 L722.62,171.61 L722.92,173.64 L723.23,176.25 L723.55,179.44 L723.87,183.21 L724.20,187.56 L724.53,192.48 L724.86,197.99 L725.20,204.08 L725.54,210.75 L725.89,218.00 L726.23,225.83 L726.58,234.23 L726.93,243.22 L727.28,252.79 L727.64,262.94 L728.00,273.66 L728.36,284.97 L728.72,296.86 L729.08,309.33 L729.44,322.37 L729.81,336.00Z" fill="#4aaed6"/>
<path d="M44.25,336.00 L44.62,322.29 L44.98,309.17 L45.34,296.62 L45.70,284.67 L46.06,273.29 L46.42,262.50 L46.78,252.29 L47.13,242.67 L47.48,233.62 L47.83,225.17 L48.17,217.29 L48.52,210.00 L48.86,203.29 L49.20,197.17 L49.53,191.62 L49.86,186.67 L50.19,182.29 L50.51,178.50 L50.83,175.29 L51.14,172.67 L51.44,170.62 L51.73,169.17 L52.01,168.29 L52.25,168.00 L52.49,168.29 L52.77,169.17 L53.06,170.62 L53.36,172.67 L53.67,175.29 L53.99,178.50 L54.31,182.29 L54.64,186.67 L54.97,191.62 L55.30,197.17 L55.64,203.29 L55.98,210.00 L56.33,217.29 L56.67,225.17 L57.02,233.62 L57.37,242.67 L57.72,252.29 L58.08,262.50 L58.44,273.29 L58.80,284.67 L59.16,296.62 L59.52,309.17 L59.88,322.29 L60.25,336.00Z M255.69,336.00 L256.06,322.29 L256.42,309.17 L256.78,296.62 L257.14,284.67 L257.50,273.29 L257.86,262.50 L258.22,252.29 L258.57,242.67 L258.92,233.62 L259.27,225.17 L259.61,217.29 L259.96,210.00 L260.30,203.29 L260.64,197.17 L260.97,191.62 L261.30,186.67 L261.63,182.29 L261.95,178.50 L262.27,175.29 L262.58,172.67 L262.88,170.62 L263.17,169.17 L263.45,168.29 L263.69,168.00 L263.93,168.29 L264.21,169.17 L264.50,170.62 L264.80,172.67 L265.11,175.29 L265.43,178.50 L265.75,182.29 L266.08,186.67 L266.41,191.62 L266.74,197.17 L267.08,203.29 L267.42,210.00 L267.77,217.29 L268.11,225.17 L268.46,233.62 L268.81,242.67 L269.16,252.29 L269.52,262.50 L269.88,273.29 L270.24,284.67 L270.60,296.62 L270.96,309.17 L271.32,322.29 L271.69,336.00Z M731.43,336.00 L731.80,322.29 L732.16,309.17 L732.52,296.62 L732.88,284.67 L733.24,273.29 L733.60,262.50 L733.96,252.29 L734.31,242.67 L734.66,233.62 L735.01,225.17 L735.35,217.29 L735.70,210.00 L736.04,203.29 L736.38,197.17 L736.71,191.62 L737.04,186.67 L737.37,182.29 L737.69,178.50 L738.01,175.29 L738.32,172.67 L738.62,170.62 L738.91,169.17 L739.19,168.29 L739.43,168.00 L739.67,168.29 L739.95,169.17 L740.24,170.62 L740.54,172.67 L740.85,175.29 L741.17,178.50 L741.49,182.29 L741.82,186.67 L742.15,191.62 L742.48,197.17 L742.82,203.29 L743.16,210.00 L743.51,217.29 L743.85,225.17 L744.20,233.62 L744.55,242.67 L744.90,252.29 L745.26,262.50 L745.62,273.29 L745.98,284.67 L746.34,296.62 L746.70,309.17 L747.06,322.29 L747.43,336.00Z" fill="#fbb200"/>
<line x1="52.25" y1="155" x2="52.25" y2="168" stroke="#b8b8b8" stroke-width="1"/>
<line x1="52.25" y1="168" x2="52.25" y2="336" stroke="#d99a00" stroke-width="1"/>
<line x1="739.43" y1="155" x2="739.43" y2="168" stroke="#b8b8b8" stroke-width="1"/>
<line x1="739.43" y1="168" x2="739.43" y2="336" stroke="#d99a00" stroke-width="1"/>
<path d="M63.90,336.00 L65.05,324.91 L66.20,318.24 L67.35,312.62 L68.49,307.58 L69.64,302.94 L70.79,298.61 L71.94,294.52 L73.09,290.63 L74.24,286.92 L75.38,283.35 L76.53,279.92 L77.68,276.60 L78.83,273.40 L79.98,270.31 L81.12,267.31 L82.27,264.40 L83.42,261.58 L84.57,258.84 L85.72,256.19 L86.87,253.61 L88.02,251.11 L89.16,248.68 L90.31,246.32 L91.46,244.03 L92.61,241.81 L93.76,239.66 L94.91,237.58 L96.05,235.56 L97.20,233.60 L98.35,231.71 L99.50,229.89 L100.65,228.13 L101.80,226.43 L102.94,224.80 L104.09,223.23 L105.24,221.72 L106.39,220.27 L107.54,218.88 L108.69,217.56 L109.83,216.30 L110.98,215.10 L112.13,213.96 L113.28,212.89 L114.43,211.87 L115.58,210.92 L116.72,210.03 L117.87,209.20 L119.02,208.43 L120.17,207.72 L121.32,207.08 L122.47,206.49 L123.61,205.97 L124.76,205.51 L125.91,205.11 L127.06,204.77 L128.21,204.49 L129.36,204.28 L130.50,204.12 L131.65,204.03 L132.80,204.00 L133.94,204.03 L135.08,204.14 L136.22,204.31 L137.36,204.55 L138.50,204.86 L139.64,205.24 L140.78,205.68 L141.92,206.20 L143.06,206.78 L144.20,207.43 L145.34,208.15 L146.48,208.94 L147.62,209.79 L148.76,210.72 L149.90,211.71 L151.04,212.77 L152.18,213.89 L153.32,215.08 L154.46,216.34 L155.60,217.67 L156.74,219.06 L157.88,220.52 L159.02,222.05 L160.16,223.64 L161.30,225.29 L162.44,227.02 L163.58,228.81 L164.72,230.66 L165.86,232.58 L167.00,234.57 L168.14,236.62 L169.28,238.73 L170.42,240.92 L171.56,243.16 L172.70,245.48 L173.84,247.86 L174.98,250.31 L176.12,252.82 L177.26,255.40 L178.40,258.05 L179.54,260.78 L180.68,263.57 L181.82,266.43 L182.96,269.37 L184.10,272.39 L185.24,275.48 L186.38,278.66 L187.52,281.93 L188.66,285.29 L189.80,288.74 L190.94,292.31 L192.08,295.99 L193.22,299.80 L194.36,303.77 L195.50,307.91 L196.64,312.28 L197.78,316.92 L198.92,321.98 L200.06,327.72 L201.20,336.00Z M282.00,336.00 L283.32,324.91 L284.65,318.23 L285.97,312.60 L287.29,307.56 L288.62,302.92 L289.94,298.58 L291.26,294.49 L292.59,290.60 L293.91,286.88 L295.23,283.31 L296.56,279.87 L297.88,276.56 L299.20,273.36 L300.53,270.26 L301.85,267.26 L303.17,264.35 L304.50,261.52 L305.82,258.79 L307.14,256.13 L308.47,253.55 L309.79,251.04 L311.11,248.61 L312.44,246.25 L313.76,243.96 L315.08,241.74 L316.41,239.59 L317.73,237.50 L319.05,235.48 L320.38,233.53 L321.70,231.64 L323.02,229.81 L324.35,228.05 L325.67,226.35 L326.99,224.71 L328.32,223.14 L329.64,221.63 L330.96,220.18 L332.29,218.80 L333.61,217.47 L334.93,216.21 L336.26,215.01 L337.58,213.87 L338.90,212.79 L340.23,211.78 L341.55,210.82 L342.87,209.93 L344.20,209.10 L345.52,208.33 L346.84,207.62 L348.17,206.98 L349.49,206.39 L350.81,205.87 L352.14,205.41 L353.46,205.01 L354.78,204.67 L356.11,204.39 L357.43,204.18 L358.75,204.02 L360.08,203.93 L361.40,203.90 L362.72,203.93 L364.04,204.03 L365.36,204.19 L366.68,204.41 L368.00,204.69 L369.32,205.04 L370.64,205.45 L371.96,205.93 L373.28,206.47 L374.60,207.07 L375.92,207.73 L377.24,208.46 L378.56,209.25 L379.88,210.10 L381.20,211.02 L382.52,212.00 L383.84,213.05 L385.16,214.15 L386.48,215.32 L387.80,216.55 L389.12,217.85 L390.44,219.21 L391.76,220.63 L393.08,222.11 L394.40,223.66 L395.72,225.27 L397.04,226.95 L398.36,228.69 L399.68,230.49 L401.00,232.36 L402.32,234.29 L403.64,236.29 L404.96,238.35 L406.28,240.48 L407.60,242.67 L408.92,244.93 L410.24,247.27 L411.56,249.67 L412.88,252.14 L414.20,254.68 L415.52,257.30 L416.84,260.00 L418.16,262.77 L419.48,265.62 L420.80,268.56 L422.12,271.59 L423.44,274.72 L424.76,277.94 L426.08,281.27 L427.40,284.71 L428.72,288.29 L430.04,292.00 L431.36,295.88 L432.68,299.95 L434.00,304.24 L435.32,308.81 L436.64,313.76 L437.96,319.25 L439.28,325.69 L440.60,336.00Z M504.20,336.00 L505.49,324.98 L506.79,318.35 L508.08,312.76 L509.37,307.75 L510.67,303.14 L511.96,298.84 L513.25,294.77 L514.55,290.91 L515.84,287.21 L517.13,283.67 L518.43,280.25 L519.72,276.96 L521.01,273.78 L522.31,270.71 L523.60,267.72 L524.89,264.83 L526.19,262.03 L527.48,259.31 L528.77,256.67 L530.07,254.11 L531.36,251.62 L532.65,249.21 L533.95,246.86 L535.24,244.59 L536.53,242.38 L537.83,240.24 L539.12,238.17 L540.41,236.17 L541.71,234.22 L543.00,232.35 L544.29,230.53 L545.59,228.78 L546.88,227.10 L548.17,225.47 L549.47,223.91 L550.76,222.41 L552.05,220.97 L553.35,219.59 L554.64,218.28 L555.93,217.03 L557.23,215.83 L558.52,214.70 L559.81,213.63 L561.11,212.62 L562.40,211.68 L563.69,210.79 L564.99,209.97 L566.28,209.20 L567.57,208.50 L568.87,207.86 L570.16,207.28 L571.45,206.76 L572.75,206.30 L574.04,205.90 L575.33,205.56 L576.63,205.29 L577.92,205.08 L579.21,204.92 L580.51,204.83 L581.80,204.80 L583.05,204.83 L584.30,204.92 L585.55,205.08 L586.81,205.29 L588.06,205.56 L589.31,205.90 L590.56,206.30 L591.81,206.76 L593.06,207.28 L594.32,207.86 L595.57,208.50 L596.82,209.20 L598.07,209.97 L599.32,210.79 L600.57,211.68 L601.83,212.62 L603.08,213.63 L604.33,214.70 L605.58,215.83 L606.83,217.03 L608.08,218.28 L609.34,219.59 L610.59,220.97 L611.84,222.41 L613.09,223.91 L614.34,225.47 L615.59,227.10 L616.85,228.78 L618.10,230.53 L619.35,232.35 L620.60,234.22 L621.85,236.17 L623.11,238.17 L624.36,240.24 L625.61,242.38 L626.86,244.59 L628.11,246.86 L629.36,249.21 L630.62,251.62 L631.87,254.11 L633.12,256.67 L634.37,259.31 L635.62,262.03 L636.87,264.83 L638.12,267.72 L639.38,270.71 L640.63,273.78 L641.88,276.96 L643.13,280.25 L644.38,283.67 L645.63,287.21 L646.89,290.91 L648.14,294.77 L649.39,298.84 L650.64,303.14 L651.89,307.75 L653.14,312.76 L654.40,318.35 L655.65,324.98 L656.90,336.00Z" fill="rgba(200,0,0,0.51)"/>
<line x1="256.60" y1="57.60" x2="74.72" y2="159.35" stroke="#969696" stroke-width="1.3"/><path d="M67.30,163.50 L74.80,154.38 L75.15,159.11 L79.00,161.88Z" fill="#7a7a7a"/>
<line x1="284.00" y1="53.40" x2="265.76" y2="144.76" stroke="#969696" stroke-width="1.3"/><path d="M264.10,153.10 L262.04,141.47 L265.86,144.27 L270.47,143.15Z" fill="#7a7a7a"/>
<line x1="457.60" y1="52.10" x2="726.13" y2="161.30" stroke="#969696" stroke-width="1.3"/><path d="M734.00,164.50 L722.19,164.34 L725.66,161.11 L725.43,156.37Z" fill="#7a7a7a"/>
<line x1="356.50" y1="117.90" x2="173.97" y2="220.58" stroke="#383838" stroke-width="1.25"/><path d="M167.00,224.50 L174.19,215.87 L174.41,220.33 L178.11,222.84Z" fill="#0a0a0a"/>
<line x1="361.50" y1="118.30" x2="361.68" y2="191.30" stroke="#383838" stroke-width="1.25"/><path d="M361.70,199.30 L357.67,188.81 L361.68,190.80 L365.67,188.79Z" fill="#0a0a0a"/>
<line x1="366.80" y1="119.30" x2="538.02" y2="215.19" stroke="#383838" stroke-width="1.25"/><path d="M545.00,219.10 L533.88,217.46 L537.58,214.95 L537.79,210.48Z" fill="#0a0a0a"/>
<text x="257.0" y="45.4" font-size="16.2" fill="#f1b838" text-anchor="start" textLength="118.8" lengthAdjust="spacingAndGlyphs" stroke="#f1b838" stroke-width="0.25">Advertisement</text>
<text x="381.0" y="45.4" font-size="16.2" fill="#f1b838" text-anchor="start" textLength="75.2" lengthAdjust="spacingAndGlyphs" stroke="#f1b838" stroke-width="0.25">Channels</text>
<text x="308.3" y="112.3" font-size="16.2" fill="#dd7a85" text-anchor="start" textLength="33" lengthAdjust="spacingAndGlyphs" stroke="#dd7a85" stroke-width="0.25">WiFi</text>
<text x="346.8" y="112.3" font-size="16.2" fill="#dd7a85" text-anchor="start" textLength="75.2" lengthAdjust="spacingAndGlyphs" stroke="#dd7a85" stroke-width="0.25">Channels</text>
<text x="14.5" y="136" font-size="16.8" fill="#111" text-anchor="start" textLength="75.5" lengthAdjust="spacingAndGlyphs" stroke="#111" stroke-width="0.3">2402MHz</text>
<text x="716.3" y="136" font-size="16.8" fill="#111" text-anchor="start" textLength="75.5" lengthAdjust="spacingAndGlyphs" stroke="#111" stroke-width="0.3">2480MHz</text>
<rect x="45" y="396.3" width="701.4" height="19.8" fill="#666" stroke="#585858" stroke-width="1"/>
<text x="343.3" y="412.3" font-size="17.2" fill="#f4f4f4" text-anchor="start" textLength="58.6" lengthAdjust="spacingAndGlyphs" stroke="#f4f4f4" stroke-width="0.3">2.4GHz</text>
<text x="407.3" y="412.3" font-size="17.2" fill="#f4f4f4" text-anchor="start" textLength="40.6" lengthAdjust="spacingAndGlyphs" stroke="#f4f4f4" stroke-width="0.3">Band</text>
<text transform="translate(56.38,375.8) rotate(-90)" font-size="12.8" fill="#161616" textLength="34.30" lengthAdjust="spacingAndGlyphs" stroke="#161616" stroke-width="0.35">CH37</text>
<text transform="translate(74.28,375.8) rotate(-90)" font-size="12.8" fill="#161616" textLength="26.28" lengthAdjust="spacingAndGlyphs" stroke="#161616" stroke-width="0.35">CH0</text>
<text transform="translate(90.98,375.8) rotate(-90)" font-size="12.8" fill="#161616" textLength="26.28" lengthAdjust="spacingAndGlyphs" stroke="#161616" stroke-width="0.35">CH1</text>
<text transform="translate(108.98,375.8) rotate(-90)" font-size="12.8" fill="#161616" textLength="26.28" lengthAdjust="spacingAndGlyphs" stroke="#161616" stroke-width="0.35">CH2</text>
<text transform="translate(126.98,375.8) rotate(-90)" font-size="12.8" fill="#161616" textLength="26.28" lengthAdjust="spacingAndGlyphs" stroke="#161616" stroke-width="0.35">CH3</text>
<text transform="translate(144.58,375.8) rotate(-90)" font-size="12.8" fill="#161616" textLength="26.28" lengthAdjust="spacingAndGlyphs" stroke="#161616" stroke-width="0.35">CH4</text>
<text transform="translate(162.38,375.8) rotate(-90)" font-size="12.8" fill="#161616" textLength="26.28" lengthAdjust="spacingAndGlyphs" stroke="#161616" stroke-width="0.35">CH5</text>
<text transform="translate(180.48,375.8) rotate(-90)" font-size="12.8" fill="#161616" textLength="26.28" lengthAdjust="spacingAndGlyphs" stroke="#161616" stroke-width="0.35">CH6</text>
<text transform="translate(198.08,375.8) rotate(-90)" font-size="12.8" fill="#161616" textLength="26.28" lengthAdjust="spacingAndGlyphs" stroke="#161616" stroke-width="0.35">CH7</text>
<text transform="translate(215.28,375.8) rotate(-90)" font-size="12.8" fill="#161616" textLength="26.28" lengthAdjust="spacingAndGlyphs" stroke="#161616" stroke-width="0.35">CH8</text>
<text transform="translate(233.98,375.8) rotate(-90)" font-size="12.8" fill="#161616" textLength="26.28" lengthAdjust="spacingAndGlyphs" stroke="#161616" stroke-width="0.35">CH9</text>
<text transform="translate(249.58,375.8) rotate(-90)" font-size="12.8" fill="#161616" textLength="34.30" lengthAdjust="spacingAndGlyphs" stroke="#161616" stroke-width="0.35">CH10</text>
<text transform="translate(268.98,375.8) rotate(-90)" font-size="12.8" fill="#161616" textLength="34.30" lengthAdjust="spacingAndGlyphs" stroke="#161616" stroke-width="0.35">CH38</text>
<text transform="translate(286.08,375.8) rotate(-90)" font-size="12.8" fill="#161616" textLength="34.30" lengthAdjust="spacingAndGlyphs" stroke="#161616" stroke-width="0.35">CH11</text>
<text transform="translate(304.58,375.8) rotate(-90)" font-size="12.8" fill="#161616" textLength="34.30" lengthAdjust="spacingAndGlyphs" stroke="#161616" stroke-width="0.35">CH12</text>
<text transform="translate(322.08,375.8) rotate(-90)" font-size="12.8" fill="#161616" textLength="34.30" lengthAdjust="spacingAndGlyphs" stroke="#161616" stroke-width="0.35">CH13</text>
<text transform="translate(339.58,375.8) rotate(-90)" font-size="12.8" fill="#161616" textLength="34.30" lengthAdjust="spacingAndGlyphs" stroke="#161616" stroke-width="0.35">CH14</text>
<text transform="translate(358.33,375.8) rotate(-90)" font-size="12.8" fill="#161616" textLength="34.30" lengthAdjust="spacingAndGlyphs" stroke="#161616" stroke-width="0.35">CH15</text>
<text transform="translate(375.48,375.8) rotate(-90)" font-size="12.8" fill="#161616" textLength="34.30" lengthAdjust="spacingAndGlyphs" stroke="#161616" stroke-width="0.35">CH16</text>
<text transform="translate(393.18,375.8) rotate(-90)" font-size="12.8" fill="#161616" textLength="34.30" lengthAdjust="spacingAndGlyphs" stroke="#161616" stroke-width="0.35">CH17</text>
<text transform="translate(412.08,375.8) rotate(-90)" font-size="12.8" fill="#161616" textLength="34.30" lengthAdjust="spacingAndGlyphs" stroke="#161616" stroke-width="0.35">CH18</text>
<text transform="translate(427.58,375.8) rotate(-90)" font-size="12.8" fill="#161616" textLength="34.30" lengthAdjust="spacingAndGlyphs" stroke="#161616" stroke-width="0.35">CH19</text>
<text transform="translate(445.18,375.8) rotate(-90)" font-size="12.8" fill="#161616" textLength="34.30" lengthAdjust="spacingAndGlyphs" stroke="#161616" stroke-width="0.35">CH20</text>
<text transform="translate(464.58,375.8) rotate(-90)" font-size="12.8" fill="#161616" textLength="34.30" lengthAdjust="spacingAndGlyphs" stroke="#161616" stroke-width="0.35">CH21</text>
<text transform="translate(481.78,375.8) rotate(-90)" font-size="12.8" fill="#161616" textLength="34.30" lengthAdjust="spacingAndGlyphs" stroke="#161616" stroke-width="0.35">CH22</text>
<text transform="translate(499.28,375.8) rotate(-90)" font-size="12.8" fill="#161616" textLength="34.30" lengthAdjust="spacingAndGlyphs" stroke="#161616" stroke-width="0.35">CH23</text>
<text transform="translate(517.58,375.8) rotate(-90)" font-size="12.8" fill="#161616" textLength="34.30" lengthAdjust="spacingAndGlyphs" stroke="#161616" stroke-width="0.35">CH24</text>
<text transform="translate(535.18,375.8) rotate(-90)" font-size="12.8" fill="#161616" textLength="34.30" lengthAdjust="spacingAndGlyphs" stroke="#161616" stroke-width="0.35">CH25</text>
<text transform="translate(552.58,375.8) rotate(-90)" font-size="12.8" fill="#161616" textLength="34.30" lengthAdjust="spacingAndGlyphs" stroke="#161616" stroke-width="0.35">CH26</text>
<text transform="translate(571.28,375.8) rotate(-90)" font-size="12.8" fill="#161616" textLength="34.30" lengthAdjust="spacingAndGlyphs" stroke="#161616" stroke-width="0.35">CH27</text>
<text transform="translate(586.88,375.8) rotate(-90)" font-size="12.8" fill="#161616" textLength="34.30" lengthAdjust="spacingAndGlyphs" stroke="#161616" stroke-width="0.35">CH28</text>
<text transform="translate(604.08,375.8) rotate(-90)" font-size="12.8" fill="#161616" textLength="34.30" lengthAdjust="spacingAndGlyphs" stroke="#161616" stroke-width="0.35">CH29</text>
<text transform="translate(622.58,375.8) rotate(-90)" font-size="12.8" fill="#161616" textLength="34.30" lengthAdjust="spacingAndGlyphs" stroke="#161616" stroke-width="0.35">CH30</text>
<text transform="translate(640.18,375.8) rotate(-90)" font-size="12.8" fill="#161616" textLength="34.30" lengthAdjust="spacingAndGlyphs" stroke="#161616" stroke-width="0.35">CH31</text>
<text transform="translate(658.33,375.8) rotate(-90)" font-size="12.8" fill="#161616" textLength="34.30" lengthAdjust="spacingAndGlyphs" stroke="#161616" stroke-width="0.35">CH32</text>
<text transform="translate(676.48,375.8) rotate(-90)" font-size="12.8" fill="#161616" textLength="34.30" lengthAdjust="spacingAndGlyphs" stroke="#161616" stroke-width="0.35">CH33</text>
<text transform="translate(693.33,375.8) rotate(-90)" font-size="12.8" fill="#161616" textLength="34.30" lengthAdjust="spacingAndGlyphs" stroke="#161616" stroke-width="0.35">CH34</text>
<text transform="translate(711.18,375.8) rotate(-90)" font-size="12.8" fill="#161616" textLength="34.30" lengthAdjust="spacingAndGlyphs" stroke="#161616" stroke-width="0.35">CH35</text>
<text transform="translate(729.58,375.8) rotate(-90)" font-size="12.8" fill="#161616" textLength="34.30" lengthAdjust="spacingAndGlyphs" stroke="#161616" stroke-width="0.35">CH36</text>
<text transform="translate(745.18,375.8) rotate(-90)" font-size="12.8" fill="#161616" textLength="34.30" lengthAdjust="spacingAndGlyphs" stroke="#161616" stroke-width="0.35">CH39</text>
<rect x="600" y="406" width="200" height="30" fill="rgba(255,255,255,0.35)"/>
<text x="616.2" y="426.4" font-size="18.2" fill="#c6d8c0" text-anchor="start" textLength="164.8" lengthAdjust="spacingAndGlyphs" stroke="#c6d8c0" stroke-width="0.35">www.cntronics.com</text>
</svg>
</body></html>
